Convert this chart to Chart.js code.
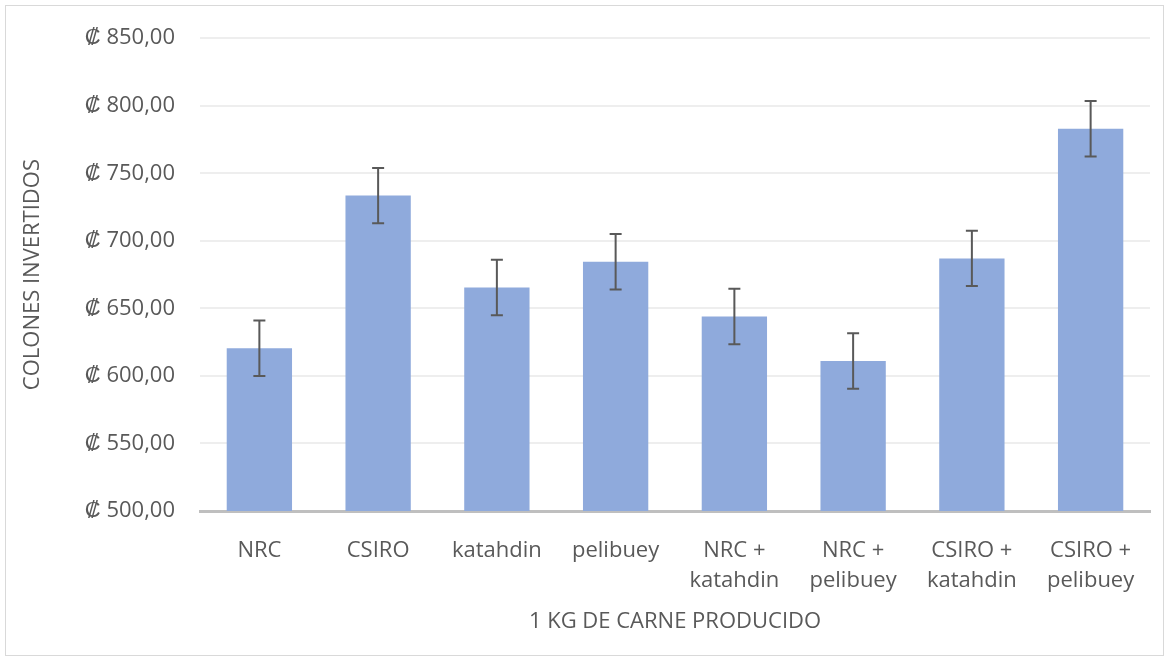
<!DOCTYPE html>
<html>
<head>
<meta charset="utf-8">
<script src="https://cdn.jsdelivr.net/npm/chart.js@4.4.0/dist/chart.umd.min.js"></script>
<style>
  html, body { margin: 0; padding: 0; background: #fff; }
  #wrap { position: relative; width: 1170px; height: 662px; }
  #frame { position: absolute; left: 5px; top: 5px; width: 1159px; height: 651px; border: 1px solid #d9d9d9; box-sizing: border-box; }
  canvas { position: absolute; left: 0; top: 0; }
</style>
</head>
<body>
<div id="wrap">
  <div id="frame"></div>
  <canvas id="costChart" width="1170" height="662"></canvas>
</div>
<script>
// datos
const categorias = [
  ['NRC'], ['CSIRO'], ['katahdin'], ['pelibuey'],
  ['NRC +', 'katahdin'], ['NRC +', 'pelibuey'],
  ['CSIRO +', 'katahdin'], ['CSIRO +', 'pelibuey']
];
const costos = [620.5, 733.5, 665.5, 684.5, 644.0, 611.0, 687.0, 783.0];
const errores = [20.5, 20.5, 20.5, 20.5, 20.5, 20.5, 20.5, 20.5];
const yMin = 500, yMax = 850, yPaso = 50;

const textColor = '#595959';
const fontFam = "'Open Sans', 'Segoe UI', sans-serif";
const fontSize = 22;

// barras de error dibujadas con las escalas del chart
const errorBars = {
  id: 'errorBars',
  afterDatasetsDraw(chart) {
    const ctx = chart.ctx;
    const meta = chart.getDatasetMeta(0);
    const y = chart.scales.y;
    ctx.save();
    ctx.strokeStyle = '#595959';
    ctx.lineWidth = 2;
    meta.data.forEach((bar, i) => {
      const x = bar.x;
      const top = y.getPixelForValue(costos[i] + errores[i]);
      const bot = y.getPixelForValue(costos[i] - errores[i]);
      const cap = 6;
      ctx.beginPath();
      ctx.moveTo(x, top); ctx.lineTo(x, bot);
      ctx.moveTo(x - cap, top); ctx.lineTo(x + cap, top);
      ctx.moveTo(x - cap, bot); ctx.lineTo(x + cap, bot);
      ctx.stroke();
    });
    ctx.restore();
  }
};

const ctx = document.getElementById('costChart').getContext('2d');
new Chart(ctx, {
  type: 'bar',
  data: {
    labels: categorias,
    datasets: [{
      data: costos,
      backgroundColor: '#8faadc',
      borderWidth: 0,
      categoryPercentage: 1,
      barPercentage: 0.55
    }]
  },
  options: {
    responsive: false,
    animation: false,
    layout: { padding: { left: 20, right: 20, top: 35, bottom: 27 } },
    plugins: { legend: { display: false }, tooltip: { enabled: false } },
    scales: {
      x: {
        grid: { display: false, drawTicks: false },
        border: { color: '#bfbfbf', width: 3 },
        ticks: { color: textColor, font: { family: fontFam, size: fontSize, lineHeight: 1.4 }, padding: 24, maxRotation: 0 },
        title: { display: true, text: '1 KG DE CARNE PRODUCIDO', color: textColor, font: { family: fontFam, size: fontSize }, padding: 0 },
        afterFit(s) { s.height = 124; }
      },
      y: {
        min: yMin, max: yMax,
        grid: { color: '#eeeeee', lineWidth: 2, drawTicks: false },
        border: { display: false },
        ticks: {
          stepSize: yPaso,
          color: textColor,
          font: { family: fontFam, size: fontSize },
          padding: 25,
          callback: v => '\u20A1 ' + v.toFixed(2).replace('.', ',')
        },
        title: { display: true, text: 'COLONES INVERTIDOS', color: textColor, font: { family: fontFam, size: fontSize }, padding: 0 },
        afterFit(s) { s.width = 180; }
      }
    }
  },
  plugins: [errorBars]
});
</script>
</body>
</html>
